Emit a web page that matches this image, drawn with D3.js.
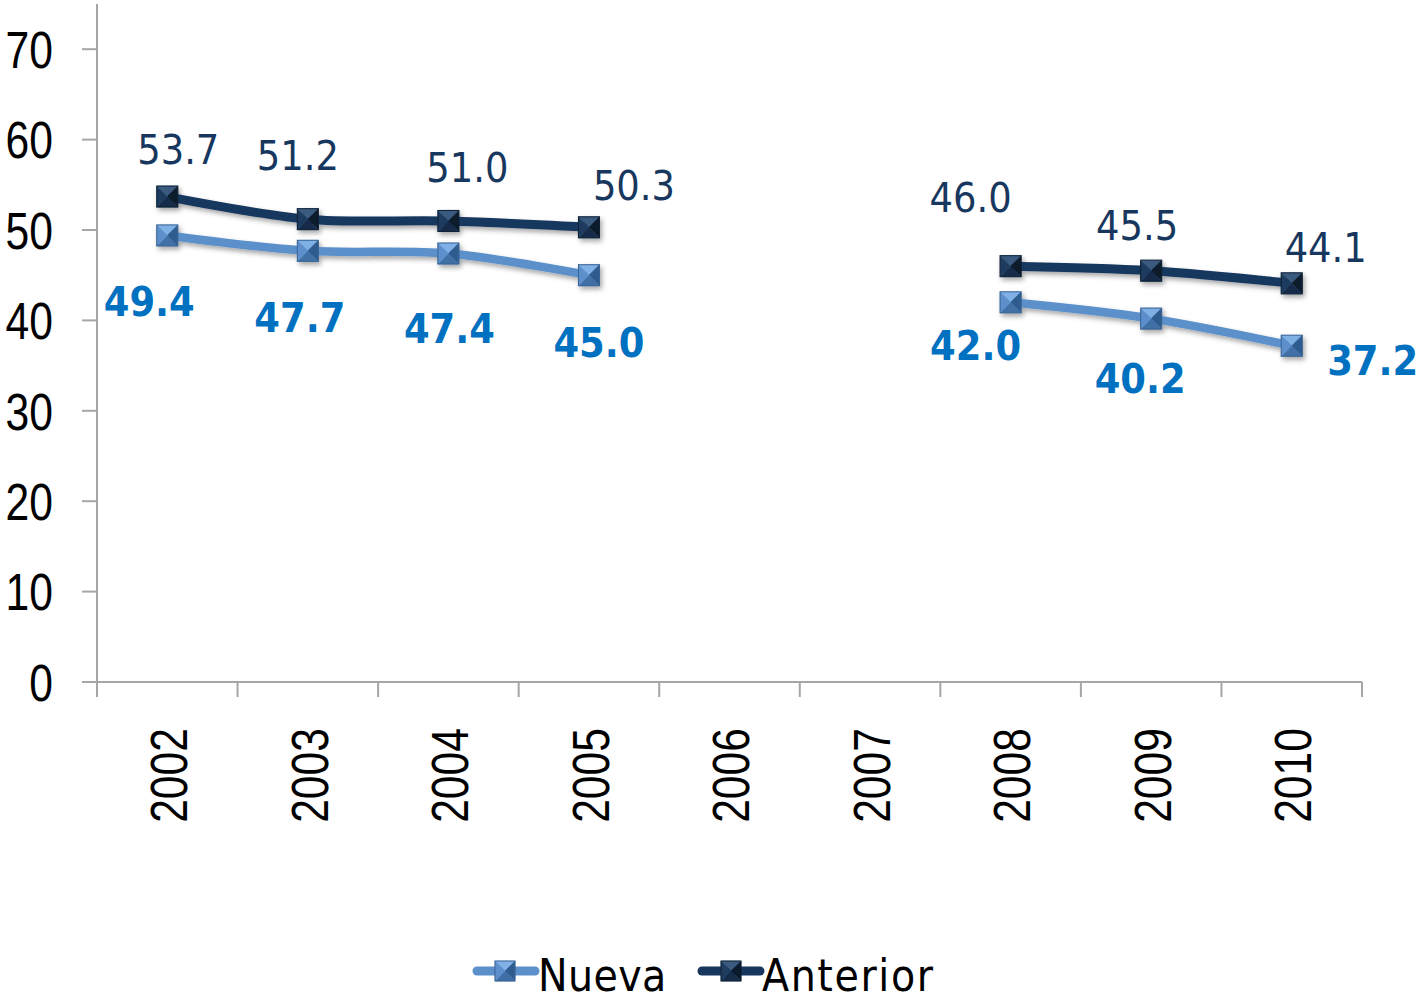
<!DOCTYPE html>
<html><head><meta charset="utf-8">
<script src="https://cdn.jsdelivr.net/npm/d3@7"></script>
<style>
html,body{margin:0;padding:0;background:#fff;}
svg{display:block;}
</style></head>
<body>
<svg id="chart" width="1424" height="1002"></svg>
<script>
// ---- data ----
const categories = ["2002","2003","2004","2005","2006","2007","2008","2009","2010"];
const nueva    = [49.4, 47.7, 47.4, 45.0, null, null, 42.0, 40.2, 37.2];
const anterior = [53.7, 51.2, 51.0, 50.3, null, null, 46.0, 45.5, 44.1];
const yTicks = [0, 10, 20, 30, 40, 50, 60, 70];
const seriesNames = ["Nueva", "Anterior"];
// label nudges (layout, px relative to point)
const nuevaLabelDx    = [-18, -8, 1, 10, 0, 0, -35, -11, 81];
const nuevaLabelDy    = [81, 81, 89, 82, 0, 0, 58, 74, 29];
const anteriorLabelDx = [11, -10, 19, 45, 0, 0, -40, -14, 34];
const anteriorLabelDy = [-33, -49, -39, -27, 0, 0, -54, -31, -21];

const svg = d3.select("#chart");
const axisColor = "#a6a6a6";
const numFont = "'Liberation Sans','Arial',sans-serif";
const narrow = 0.82;
const lblFont = "'DejaVu Sans Condensed','DejaVu Sans',sans-serif";

const x = d3.scaleBand().domain(categories).range([97, 1362]).padding(0);
const cx = c => x(c) + x.bandwidth() / 2;
const y = d3.scaleLinear().domain([0, 75]).range([682, 4]);

const defs = svg.append("defs");
const f = defs.append("filter").attr("id","shadow").attr("x","-20%").attr("y","-50%").attr("width","140%").attr("height","200%");
f.append("feDropShadow").attr("dx",2).attr("dy",3).attr("stdDeviation",2.5).attr("flood-color","#000").attr("flood-opacity",0.35);

// axes
const gy = svg.append("g");
gy.append("line").attr("x1",97).attr("x2",97).attr("y1",y(75)).attr("y2",y(0)).attr("stroke",axisColor).attr("stroke-width",2);
yTicks.forEach(t => {
  gy.append("line").attr("x1",82).attr("x2",97).attr("y1",y(t)).attr("y2",y(t)).attr("stroke",axisColor).attr("stroke-width",2);
  gy.append("text").attr("transform",`translate(53,${y(t)}) scale(${narrow},1)`).attr("dy","0.36em").attr("text-anchor","end")
    .attr("font-family",numFont).attr("font-size",52).attr("fill","#000").text(t);
});
const gx = svg.append("g");
gx.append("line").attr("x1",97).attr("x2",1362).attr("y1",y(0)).attr("y2",y(0)).attr("stroke",axisColor).attr("stroke-width",2);
d3.range(categories.length + 1).forEach(i => {
  const xx = 97 + i * x.bandwidth();
  gx.append("line").attr("x1",xx).attr("x2",xx).attr("y1",y(0)).attr("y2",y(0)+15).attr("stroke",axisColor).attr("stroke-width",2);
});
categories.forEach(c => {
  gx.append("text").attr("transform",`translate(${cx(c)+1},728) rotate(-90) scale(${narrow},1)`)
    .attr("text-anchor","end").attr("dy","0.36em")
    .attr("font-family",numFont).attr("font-size",52).attr("fill","#000").text(c);
});

// marker drawing (pyramid bevel square)
function marker(g, px, py, pal, s) {
  const h = s / 2;
  const m = g.append("g").attr("transform",`translate(${px},${py})`);
  const c = [[-h,-h],[h,-h],[h,h],[-h,h]];
  const faces = [
    [c[0], c[1], pal.top],
    [c[1], c[2], pal.right],
    [c[2], c[3], pal.bottom],
    [c[3], c[0], pal.left]
  ];
  faces.forEach(fc => {
    m.append("path").attr("d", d3.line()([fc[0], fc[1], [0,0]]) + "Z").attr("fill", fc[2]).attr("stroke", fc[2]).attr("stroke-width",0.5);
  });
  m.append("rect").attr("x",-h).attr("y",-h).attr("width",s).attr("height",s).attr("fill","none").attr("stroke",pal.edge).attr("stroke-width",1);
}
const palLight = {top:"#7fb0e6", left:"#5c8fcb", right:"#2f5c8f", bottom:"#3f6fa5", edge:"#3a6394"};
const palDark  = {top:"#3a5a80", left:"#1f3b5e", right:"#0b1a2c", bottom:"#142c48", edge:"#0f2238"};

const series = [
  {name:"Nueva", values:nueva, color:"#5b90cb", width:8.5, pal:palLight, lblColor:"#0070c0", bold:true, dx:nuevaLabelDx, dy:nuevaLabelDy},
  {name:"Anterior", values:anterior, color:"#17375e", width:9, pal:palDark, lblColor:"#17375e", bold:false, dx:anteriorLabelDx, dy:anteriorLabelDy}
];

const line = d3.line()
  .defined(d => d.v != null)
  .x(d => cx(d.c)).y(d => y(d.v))
  .curve(d3.curveCatmullRom.alpha(0.5));

series.forEach(s => {
  const pts = categories.map((c, i) => ({c, v: s.values[i]}));
  const g = svg.append("g").attr("filter","url(#shadow)");
  g.append("path").datum(pts).attr("d", line).attr("fill","none")
    .attr("stroke", s.color).attr("stroke-width", s.width).attr("stroke-linejoin","round");
  pts.filter(p => p.v != null).forEach(p => marker(g, cx(p.c), y(p.v), s.pal, 21));
});
series.forEach(s => {
  categories.forEach((c, i) => {
    const v = s.values[i];
    if (v == null) return;
    svg.append("text").attr("x", cx(c) + s.dx[i]).attr("y", y(v) + s.dy[i])
      .attr("text-anchor","middle").attr("font-family",lblFont).attr("font-size",41)
      .attr("font-weight", s.bold ? "bold" : "normal").attr("fill", s.lblColor)
      .text(v.toFixed(1));
  });
});

// legend
const legY = 971, legBase = 991;
const legend = [{x1:477, x2:535, mx:505, tx:538, ls:0.4}, {x1:702, x2:760, mx:731, tx:762, ls:1.6}];
series.forEach((s, i) => {
  const L = legend[i];
  const g = svg.append("g");
  g.append("line").attr("x1",L.x1).attr("x2",L.x2).attr("y1",legY).attr("y2",legY)
    .attr("stroke", s.color).attr("stroke-width",9).attr("stroke-linecap","round");
  marker(g, L.mx, legY, s.pal, 20);
  g.append("text").attr("x",L.tx).attr("y",legBase).attr("font-family",lblFont).attr("font-size",44)
    .attr("letter-spacing",L.ls).attr("fill","#000").text(seriesNames[i]);
});
</script>
</body></html>
